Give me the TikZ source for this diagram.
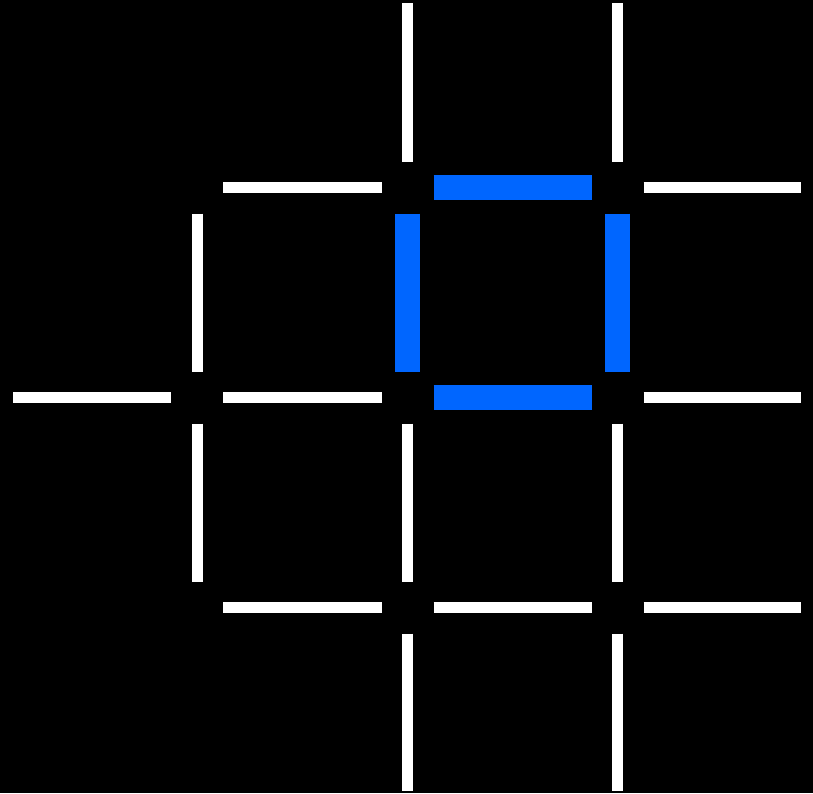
\documentclass[tikz,border=0pt]{standalone}
\definecolor{segblue}{RGB}{0,102,255}
\begin{document}
\begin{tikzpicture}[x=1pt,y=-1pt,
  seg/.style={line width=11pt, draw=white, shorten <=26pt, shorten >=26pt},
  bseg/.style={seg, line width=25pt, draw=segblue}]
\fill[black] (0,0) rectangle (813,793);
\useasboundingbox (0,0) rectangle (813,793);
\foreach \i/\x in {0/-13,1/197,2/407.5,3/617.5,4/827}
  \foreach \j/\y in {0/-23,1/187.5,2/397.5,3/607.5,4/817}
    \coordinate (p\i\j) at (\x,\y);
% horizontal white
\draw[seg] (p11) -- (p21);
\draw[seg] (p31) -- (p41);
\draw[seg] (p02) -- (p12);
\draw[seg] (p12) -- (p22);
\draw[seg] (p32) -- (p42);
\draw[seg] (p13) -- (p23);
\draw[seg] (p23) -- (p33);
\draw[seg] (p33) -- (p43);
% vertical white
\draw[seg] (p11) -- (p12);
\draw[seg] (p12) -- (p13);
\draw[seg] (p20) -- (p21);
\draw[seg] (p22) -- (p23);
\draw[seg] (p23) -- (p24);
\draw[seg] (p30) -- (p31);
\draw[seg] (p32) -- (p33);
\draw[seg] (p33) -- (p34);
% blue square
\draw[bseg] (p21) -- (p31);
\draw[bseg] (p22) -- (p32);
\draw[bseg] (p21) -- (p22);
\draw[bseg] (p31) -- (p32);
\end{tikzpicture}
\end{document}
